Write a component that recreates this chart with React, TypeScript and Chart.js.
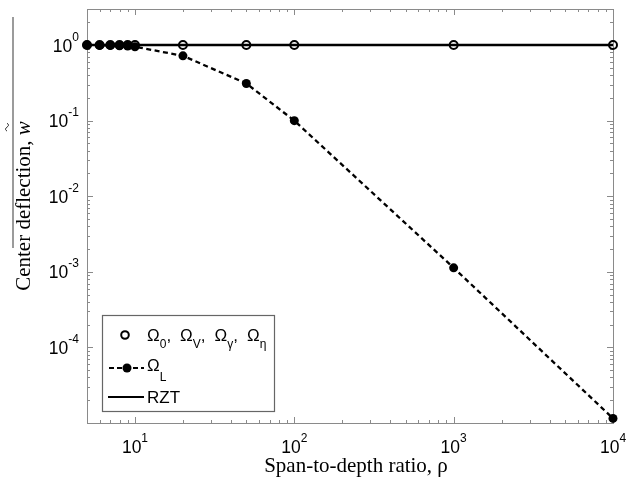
import React, { useEffect, useRef } from 'react';
import { Chart, registerables } from 'chart.js';

Chart.register(...registerables);

// Data
const rho = [5, 6, 7, 8, 9, 10, 20, 50, 100, 1000, 10000];
const omegaGroup = [1, 1, 1, 1, 1, 1, 1, 1, 1, 1, 1];
const omegaL = [1.0, 0.99, 0.99, 0.98, 0.97, 0.95, 0.72, 0.31, 0.1, 0.00113, 0.0000115];
const rzt = [1, 1, 1, 1, 1, 1, 1, 1, 1, 1, 1];
const xTickExps = [1, 2, 3, 4];
const yTickExps = [0, -1, -2, -3, -4];
const xTitle = 'Span-to-depth ratio, ρ';
const yTitle = 'Center deflection, ';

const SANS = '"Liberation Sans", Arial, sans-serif';
const SERIF = '"Liberation Serif", "Times New Roman", serif';

function drawPow(ctx: CanvasRenderingContext2D, x: number, y: number, align: string, exp: number) {
  ctx.font = `17.5px ${SANS}`;
  const wb = ctx.measureText('10').width;
  ctx.font = `12px ${SANS}`;
  const es = String(exp);
  const we = ctx.measureText(es).width;
  const total = wb + we;
  const x0 = align === 'center' ? x - total / 2 : x - total;
  ctx.textAlign = 'left';
  ctx.textBaseline = 'alphabetic';
  ctx.font = `17.5px ${SANS}`;
  ctx.fillText('10', x0, y);
  ctx.font = `12px ${SANS}`;
  ctx.fillText(es, x0 + wb, y - 11);
}

function drawSub(ctx: CanvasRenderingContext2D, x: number, y: number, base: string, sub: string, dy: number) {
  ctx.font = `17px ${SANS}`;
  ctx.fillText(base, x, y);
  const wb = ctx.measureText(base).width;
  ctx.font = `12px ${SANS}`;
  ctx.fillText(sub, x + wb, y + dy);
  return x + wb + ctx.measureText(sub).width;
}

const decorPlugin = {
  id: 'decor',
  beforeDatasetsDraw(chart: any) {
    const ctx: CanvasRenderingContext2D = chart.ctx;
    const { left, right, top, bottom } = chart.chartArea;
    const xs = chart.scales.x;
    const ys = chart.scales.y;
    ctx.save();
    // axes box
    ctx.strokeStyle = '#8a8a8a';
    ctx.lineWidth = 1;
    ctx.strokeRect(left + 0.5, top + 0.5, right - left, bottom - top);
    // ticks
    ctx.beginPath();
    for (let e = 0; e <= 4; e++) {
      for (let m = 1; m <= 9; m++) {
        const v = m * Math.pow(10, e);
        if (v < xs.min - 1e-9 || v > xs.max + 1e-9) continue;
        const px = Math.round(xs.getPixelForValue(v)) + 0.5;
        const len = m === 1 ? 6 : 3;
        ctx.moveTo(px, bottom);
        ctx.lineTo(px, bottom - len);
        ctx.moveTo(px, top);
        ctx.lineTo(px, top + len);
      }
    }
    for (let e = -5; e <= 0; e++) {
      for (let m = 1; m <= 9; m++) {
        const v = m * Math.pow(10, e);
        if (v < ys.min * 0.999 || v > ys.max * 1.001) continue;
        const py = Math.round(ys.getPixelForValue(v)) + 0.5;
        const len = m === 1 ? 6 : 3;
        ctx.moveTo(left, py);
        ctx.lineTo(left + len, py);
        ctx.moveTo(right, py);
        ctx.lineTo(right - len, py);
      }
    }
    ctx.stroke();

    // tick labels
    ctx.fillStyle = '#000';
    xTickExps.forEach((e) => {
      const px = xs.getPixelForValue(Math.pow(10, e));
      drawPow(ctx, px, bottom + 30, 'center', e);
    });
    yTickExps.forEach((e) => {
      const py = ys.getPixelForValue(Math.pow(10, e));
      drawPow(ctx, left - 8, py + 6.5, 'right', e);
    });

    // x title
    ctx.font = `21px ${SERIF}`;
    ctx.textAlign = 'center';
    ctx.fillText(xTitle, 356, 472);

    // y title
    ctx.save();
    ctx.translate(30, 206);
    ctx.rotate(-Math.PI / 2);
    ctx.textAlign = 'left';
    ctx.font = `21px ${SERIF}`;
    const w1 = ctx.measureText(yTitle).width;
    ctx.font = `italic 21px ${SERIF}`;
    const w2 = ctx.measureText('w').width;
    const sx = -(w1 + w2) / 2;
    ctx.font = `21px ${SERIF}`;
    ctx.fillText(yTitle, sx, 0);
    ctx.font = `italic 21px ${SERIF}`;
    ctx.fillText('w', sx + w1, 0);
    // tilde
    const cx = sx + w1 + w2 / 2 + 1;
    ctx.beginPath();
    ctx.lineWidth = 1;
    ctx.strokeStyle = '#222';
    for (let i = 0; i <= 10; i++) {
      const t = i / 10;
      const xx = cx - 4 + 8 * t;
      const yy = -23 - 1.5 * Math.sin(t * 2 * Math.PI);
      if (i === 0) ctx.moveTo(xx, yy); else ctx.lineTo(xx, yy);
    }
    ctx.stroke();
    ctx.restore();

    // vertical rule artefact left of the y title
    ctx.strokeStyle = '#7a7a7a';
    ctx.lineWidth = 1.5;
    ctx.beginPath();
    ctx.moveTo(13, 17);
    ctx.lineTo(13, 248);
    ctx.stroke();
    ctx.restore();
  },
  afterDatasetsDraw(chart: any) {
    const ctx: CanvasRenderingContext2D = chart.ctx;
    ctx.save();
    const L = 102, T = 315, R = 274, B = 411;
    ctx.fillStyle = '#fff';
    ctx.fillRect(L, T, R - L, B - T);
    ctx.strokeStyle = '#666';
    ctx.lineWidth = 1.2;
    ctx.strokeRect(L + 0.5, T + 0.5, R - L, B - T);

    ctx.fillStyle = '#000';
    ctx.strokeStyle = '#000';
    ctx.textAlign = 'left';
    ctx.textBaseline = 'alphabetic';
    // entry 1
    ctx.lineWidth = 2;
    ctx.beginPath();
    ctx.arc(125, 335, 3.8, 0, Math.PI * 2);
    ctx.stroke();
    const subs = ['0', 'V', 'γ', 'η'];
    let x = 147;
    subs.forEach((s, i) => {
      x = drawSub(ctx, x, 341, 'Ω', s, 7);
      if (i < subs.length - 1) {
        ctx.font = `17px ${SANS}`;
        ctx.fillText(',', x, 341);
        x += ctx.measureText(',').width + 9;
      }
    });
    // entry 2
    ctx.lineWidth = 2;
    ctx.setLineDash([5, 3]);
    ctx.beginPath();
    ctx.moveTo(109, 368);
    ctx.lineTo(144, 368);
    ctx.stroke();
    ctx.setLineDash([]);
    ctx.beginPath();
    ctx.arc(127, 368, 4.5, 0, Math.PI * 2);
    ctx.fill();
    drawSub(ctx, 147, 371, 'Ω', 'L', 10);
    // entry 3
    ctx.lineWidth = 2;
    ctx.beginPath();
    ctx.moveTo(108, 397);
    ctx.lineTo(144, 397);
    ctx.stroke();
    ctx.font = `17px ${SANS}`;
    ctx.fillText('RZT', 147, 403);
    ctx.restore();
  },
};

export default function App() {
  const ref = useRef<HTMLCanvasElement | null>(null);
  useEffect(() => {
    if (!ref.current) return;
    const chart = new Chart(ref.current, {
      type: 'line',
      data: {
        datasets: [
          {
            label: 'ΩL',
            data: rho.map((r, i) => ({ x: r, y: omegaL[i] })),
            borderColor: '#000',
            backgroundColor: '#000',
            borderWidth: 2.3,
            borderDash: [5, 3.5],
            pointRadius: 4.5,
            pointBorderWidth: 0,
            pointBackgroundColor: '#000',
            tension: 0,
            clip: false,
          },
          {
            label: 'Ω0, ΩV, Ωγ, Ωη',
            data: rho.map((r, i) => ({ x: r, y: omegaGroup[i] })),
            showLine: false,
            borderColor: '#000',
            pointRadius: 4,
            pointBorderWidth: 2,
            pointBorderColor: '#000',
            pointBackgroundColor: 'rgba(0,0,0,0)',
            clip: false,
          },
          {
            label: 'RZT',
            data: rho.map((r, i) => ({ x: r, y: rzt[i] })),
            borderColor: '#000',
            borderWidth: 2.5,
            pointRadius: 0,
            tension: 0,
            clip: false,
          },
        ],
      },
      options: {
        animation: false,
        responsive: false,
        devicePixelRatio: 1,
        layout: { padding: { left: 87, top: 9, right: 28, bottom: 65 } },
        plugins: { legend: { display: false }, tooltip: { enabled: false } },
        scales: {
          x: { type: 'logarithmic', min: 5, max: 10000, display: false },
          y: { type: 'logarithmic', min: 1e-5, max: 3, display: false },
        },
      },
      plugins: [decorPlugin],
    } as any);
    return () => chart.destroy();
  }, []);
  return (
    <div style={{ position: 'absolute', left: 0, top: 0, width: 641, height: 488, background: '#fff' }}>
      <canvas ref={ref} width={641} height={488} style={{ display: 'block' }} />
    </div>
  );
}
